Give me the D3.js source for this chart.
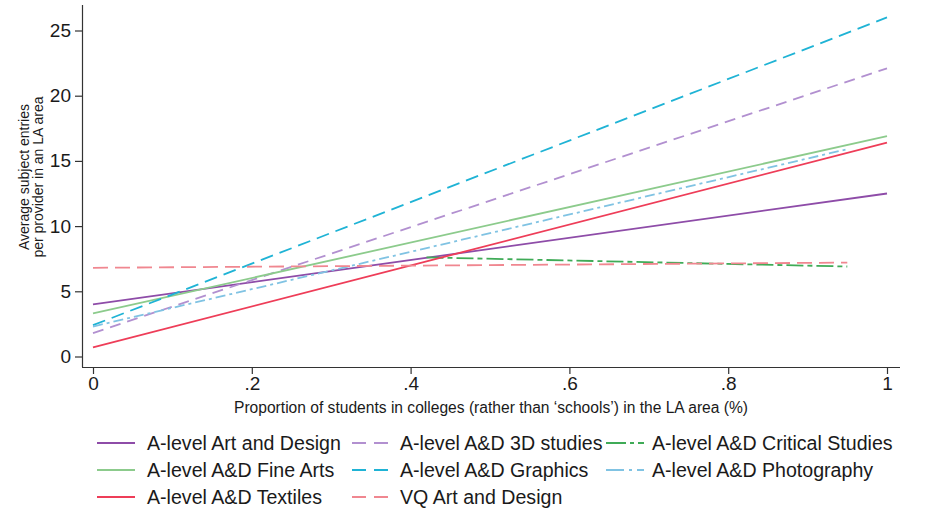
<!DOCTYPE html>
<html>
<head>
<meta charset="utf-8">
<script src="https://cdn.jsdelivr.net/npm/d3@7"></script>
<style>
html,body{margin:0;padding:0;background:#fff;}
text{font-family:"Liberation Sans",Arial,sans-serif;fill:#1a1a1a;}
</style>
</head>
<body>
<svg id="chart" width="926" height="511"></svg>
<script>
// Data: fitted lines, start/end x and y values
const seriesNames = ["A-level Art and Design","A-level A&D 3D studies","A-level A&D Critical Studies",
  "A-level A&D Fine Arts","A-level A&D Graphics","A-level A&D Photography",
  "A-level A&D Textiles","VQ Art and Design"];
const xStart = [0, 0, 0.42, 0, 0, 0, 0, 0];
const xEnd   = [1, 1, 0.95, 1, 1, 0.95, 1, 0.95];
const yStart = [4.0, 1.8, 7.6, 3.3, 2.4, 2.3, 0.7, 6.8];
const yEnd   = [12.5, 22.1, 6.9, 16.9, 26.0, 15.9, 16.4, 7.2];
const xTicks = [0, 0.2, 0.4, 0.6, 0.8, 1];
const xTickLabels = ["0", ".2", ".4", ".6", ".8", "1"];
const yTicks = [0, 5, 10, 15, 20, 25];

const colors = ["#8e4ca8","#b290d0","#3fab57","#8ccb8c","#1fb3d5","#80c3e3","#ee3d58","#f08790"];
const dashes = [null, "11,7", "17,4,5,4", null, "13,7", "10,4,3,4", null, "15,7"];
const legendDashes = [null, "14,8", "20,4,4,4", null, "14,8", "18,5,3,5", null, "14,8"];

const svg = d3.select("#chart");
const x = d3.scaleLinear().domain([0,1]).range([93,887]);
const y = d3.scaleLinear().domain([0,25]).range([356.5,30.5]);

// axes
const xAxis = svg.append("g").attr("transform","translate(0,367)")
  .call(d3.axisBottom(x).tickValues(xTicks).tickFormat((d,i)=>xTickLabels[i]).tickSizeOuter(0).tickSize(7).tickPadding(3));
xAxis.select(".domain").attr("d","M82,0.5H900").attr("stroke","#333").attr("stroke-width",1.2);
xAxis.selectAll(".tick line").attr("stroke","#333").attr("stroke-width",1.2);
xAxis.selectAll(".tick text").style("font-size","19px").attr("fill","#1a1a1a");

const yAxis = svg.append("g").attr("transform","translate(82,0)")
  .call(d3.axisLeft(y).tickValues(yTicks).tickSizeOuter(0).tickSize(7).tickPadding(4));
yAxis.select(".domain").attr("d","M0.5,5V367").attr("stroke","#333").attr("stroke-width",1.2);
yAxis.selectAll(".tick line").attr("stroke","#333").attr("stroke-width",1.2);
yAxis.selectAll(".tick text").style("font-size","19px").attr("fill","#1a1a1a");

// lines
const line = d3.line().x(d=>x(d[0])).y(d=>y(d[1]));
seriesNames.forEach((name,i)=>{
  const pts = [[xStart[i], yStart[i]],[xEnd[i], yEnd[i]]];
  svg.append("path").datum(pts).attr("d", line)
    .attr("fill","none").attr("stroke", colors[i]).attr("stroke-width",1.8)
    .attr("stroke-dasharray", dashes[i]);
});

// axis titles
svg.append("text").attr("x", 491).attr("y", 413).attr("text-anchor","middle")
  .style("font-size","15.6px").text("Proportion of students in colleges (rather than \u2018schools\u2019) in the LA area (%)");
const yt = svg.append("text").attr("transform","translate(29,177) rotate(-90)").attr("text-anchor","middle").style("font-size","14px");
yt.append("tspan").attr("x",0).attr("dy",0).text("Average subject entries");
yt.append("tspan").attr("x",0).attr("dy","1.0em").text("per provider in an LA area");

// legend
const sampleX = [97, 352, 606];
const textX = [147, 400, 652];
const rowY = [443, 470, 497];
const leg = svg.append("g");
seriesNames.forEach((name,i)=>{
  const c = i % 3, r = Math.floor(i/3);
  const gy = rowY[r];
  leg.append("line").attr("x1",sampleX[c]).attr("x2",sampleX[c]+38).attr("y1",gy).attr("y2",gy)
    .attr("stroke",colors[i]).attr("stroke-width",1.8)
    .attr("stroke-dasharray", legendDashes[i]);
  leg.append("text").attr("x",textX[c]).attr("y",gy).attr("dy","0.35em")
    .style("font-size","19.6px").text(name);
});
</script>
</body>
</html>
